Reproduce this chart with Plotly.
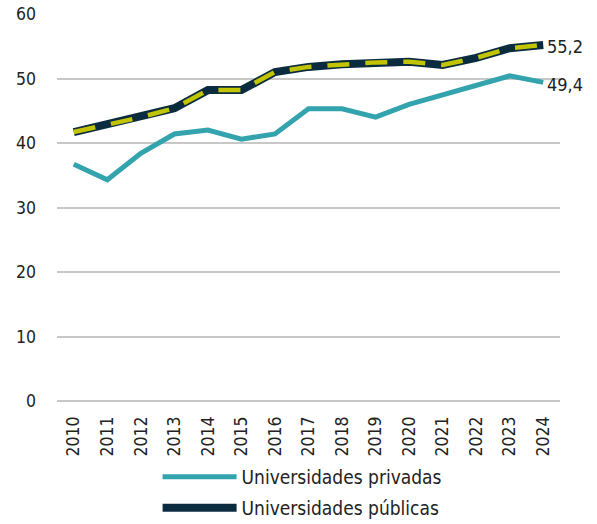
import plotly.graph_objects as go

years = list(range(2010, 2025))
privadas = [36.7, 34.3, 38.4, 41.4, 42.0, 40.6, 41.4, 45.3, 45.3, 44.0, 46.0, 47.4, 48.8, 50.4, 49.4]
publicas = [41.7, 42.9, 44.0, 45.4, 48.2, 48.2, 51.0, 51.8, 52.2, 52.5, 52.6, 52.1, 53.2, 54.7, 55.2]

teal = "#33a3ae"
navy = "#0b2b3f"
olive = "#c3c400"
font = "DejaVu Sans Condensed"

fig = go.Figure()
fig.add_trace(go.Scatter(x=years, y=privadas, mode="lines", name="Universidades privadas",
                         line=dict(color=teal, width=5), legend="legend"))
fig.add_trace(go.Scatter(x=years, y=publicas, mode="lines", name="Universidades públicas",
                         line=dict(color=navy, width=8), legend="legend2"))
fig.add_trace(go.Scatter(x=years, y=publicas, mode="lines", showlegend=False, hoverinfo="skip",
                         line=dict(color=olive, width=4.5, dash="22px,16px")))

fmt = lambda v: f"{v:.1f}".replace(".", ",")
for series in (privadas, publicas):
    fig.add_annotation(x=years[-1], y=series[-1], text=fmt(series[-1]), showarrow=False,
                       xanchor="left", yanchor="middle", xshift=2, yshift=-2,
                       font=dict(family=font, size=18, color="#222"))

legend_style = dict(orientation="v", x=0.2, xanchor="left", yanchor="top",
                    font=dict(family=font, size=19, color="#222"), itemwidth=74,
                    bgcolor="rgba(0,0,0,0)")

fig.update_layout(
    width=597, height=524,
    margin=dict(l=57, r=37, t=14, b=123, autoexpand=False),
    paper_bgcolor="white", plot_bgcolor="white",
    font=dict(family=font, size=17, color="#222"),
    showlegend=True,
    legend=dict(y=-0.147, **legend_style),
    legend2=dict(y=-0.227, **legend_style),
)
fig.update_xaxes(range=[2009.5, 2024.5], tickmode="array", tickvals=years,
                 ticktext=[str(y) for y in years], tickangle=-90,
                 showgrid=False, showline=False, zeroline=False, ticks="",
                 tickfont=dict(family=font, size=17.5), ticklabelstandoff=11,
                 automargin=False)
fig.update_yaxes(range=[0, 60], dtick=10, showgrid=True, gridcolor="#c8c8c8", gridwidth=1.5,
                 zeroline=True, zerolinecolor="#c8c8c8", zerolinewidth=1.5,
                 showline=False, ticks="", tickfont=dict(family=font, size=17.5),
                 ticklabelstandoff=20, automargin=False)

fig.write_html("out.html")
